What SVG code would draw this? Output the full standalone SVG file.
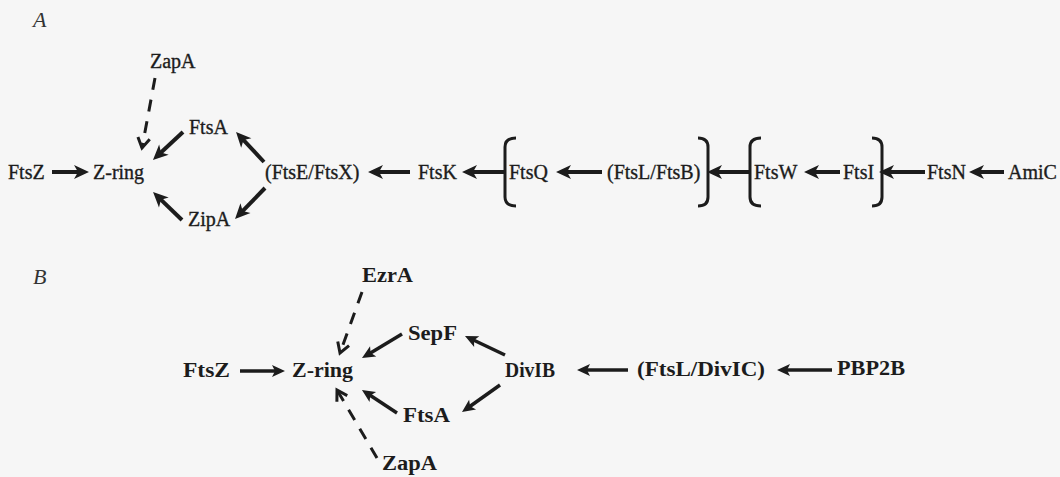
<svg xmlns="http://www.w3.org/2000/svg" width="1060" height="477" viewBox="0 0 1060 477">
<defs>
<style>
.ta{font-family:"Liberation Serif","Times New Roman",serif;font-size:20px;fill:#1c1c1c;stroke:#1c1c1c;stroke-width:0.35}
.tb{font-family:"Liberation Serif","Times New Roman",serif;font-size:20px;font-weight:bold;fill:#1c1c1c}
.lab{font-family:"Liberation Serif","Times New Roman",serif;font-size:22px;font-style:italic;fill:#333}
.sa{stroke:#1c1c1c;stroke-width:4;fill:none;marker-end:url(#ahA)}
.sb{stroke:#1c1c1c;stroke-width:3.5;fill:none;marker-end:url(#ahB)}
.da{stroke:#1c1c1c;stroke-width:3;fill:none;stroke-dasharray:12 10;marker-end:url(#ahV)}
.br{stroke:#1c1c1c;stroke-width:3;fill:none}
</style>
<marker id="ahA" markerUnits="userSpaceOnUse" markerWidth="16" markerHeight="14" refX="7" refY="7" orient="auto" overflow="visible"><path d="M0,0 L15,7 L0,14 L4,7 z" fill="#1c1c1c"/></marker>
<marker id="ahB" markerUnits="userSpaceOnUse" markerWidth="14" markerHeight="12" refX="6" refY="6" orient="auto" overflow="visible"><path d="M0,0 L13,6 L0,12 L3,6 z" fill="#1c1c1c"/></marker>
<marker id="ahV" markerUnits="userSpaceOnUse" markerWidth="12" markerHeight="14" refX="10" refY="6" orient="auto" overflow="visible"><path d="M0,0 L10,6 L0,12" fill="none" stroke="#1c1c1c" stroke-width="3"/></marker>
</defs>
<rect width="1060" height="477" fill="#f6f6f6"/>
<text class="lab" x="33" y="27">A</text>
<text class="lab" x="33" y="284">B</text>
<g id="panelA-nodes">
<g id="a-zapa"><text class="ta" x="150" y="68">ZapA</text></g>
<g id="a-ftsz"><text class="ta" x="8" y="179">FtsZ</text></g>
<g id="a-zring"><text class="ta" x="93" y="179">Z-ring</text></g>
<g id="a-ftsa"><text class="ta" x="189" y="134">FtsA</text></g>
<g id="a-zipa"><text class="ta" x="188" y="226">ZipA</text></g>
<g id="a-ftsex"><text class="ta" x="265" y="179">(FtsE/FtsX)</text></g>
<g id="a-ftsk"><text class="ta" x="418" y="179">FtsK</text></g>
<g id="a-ftsq"><text class="ta" x="509" y="179">FtsQ</text></g>
<g id="a-ftslb"><text class="ta" x="607" y="179">(FtsL/FtsB)</text></g>
<g id="a-ftsw"><text class="ta" x="754" y="179">FtsW</text></g>
<g id="a-ftsi"><text class="ta" x="843" y="179">FtsI</text></g>
<g id="a-ftsn"><text class="ta" x="927" y="179">FtsN</text></g>
<g id="a-amic"><text class="ta" x="1008" y="179">AmiC</text></g>
<g id="a-brackets">
<path class="br" d="M516,138 Q505,138 505,147 L505,197 Q505,206 516,206"/>
<path class="br" d="M698,138 Q708,138 708,147 L708,197 Q708,206 698,206"/>
<path class="br" d="M761,138 Q750,138 750,147 L750,197 Q750,206 761,206"/>
<path class="br" d="M872,138 Q882,138 882,147 L882,197 Q882,206 872,206"/>
</g>
</g>
<g id="panelB-nodes">
<g id="b-ezra"><text class="tb" x="362" y="282" textLength="51" lengthAdjust="spacingAndGlyphs">EzrA</text></g>
<g id="b-sepf"><text class="tb" x="408" y="340" textLength="49" lengthAdjust="spacingAndGlyphs">SepF</text></g>
<g id="b-ftsz"><text class="tb" x="183" y="377" textLength="47" lengthAdjust="spacingAndGlyphs">FtsZ</text></g>
<g id="b-zring"><text class="tb" x="292" y="377" textLength="61" lengthAdjust="spacingAndGlyphs">Z-ring</text></g>
<g id="b-divib"><text class="tb" x="505" y="377" textLength="50" lengthAdjust="spacingAndGlyphs">DivIB</text></g>
<g id="b-ftsldivic"><text class="tb" x="637" y="376" textLength="128" lengthAdjust="spacingAndGlyphs">(FtsL/DivIC)</text></g>
<g id="b-pbp2b"><text class="tb" x="837" y="375" textLength="68" lengthAdjust="spacingAndGlyphs">PBP2B</text></g>
<g id="b-ftsa"><text class="tb" x="403" y="422" textLength="47" lengthAdjust="spacingAndGlyphs">FtsA</text></g>
<g id="b-zapa"><text class="tb" x="382" y="470" textLength="55" lengthAdjust="spacingAndGlyphs">ZapA</text></g>
</g>
<g id="connectors">
<line class="sa" x1="52" y1="172" x2="81" y2="172"/>
<line class="sa" x1="183" y1="132" x2="158.8" y2="154.5"/>
<line class="sa" x1="182" y1="220" x2="158.8" y2="197.6"/>
<line class="sa" x1="264" y1="162" x2="241.5" y2="137.9"/>
<line class="sa" x1="265" y1="188" x2="240.6" y2="213.2"/>
<line class="sa" x1="410" y1="172" x2="376" y2="172"/>
<line class="sa" x1="505" y1="172" x2="470" y2="172"/>
<line class="sa" x1="602" y1="172" x2="564" y2="172"/>
<line class="sa" x1="750" y1="172" x2="715" y2="172"/>
<line class="sa" x1="840" y1="172" x2="812" y2="172"/>
<line class="sa" x1="925" y1="172" x2="887" y2="172"/>
<line class="sa" x1="1004" y1="172" x2="977" y2="172"/>
<line class="da" x1="155" y1="78" x2="142" y2="148"/>
<line class="sb" x1="240" y1="371" x2="278" y2="371"/>
<line class="sb" x1="402" y1="334" x2="368" y2="354.4"/>
<line class="sb" x1="505" y1="355" x2="471.3" y2="339"/>
<line class="sb" x1="500" y1="385" x2="467.7" y2="408"/>
<line class="sb" x1="397" y1="413" x2="367.8" y2="393.8"/>
<line class="sb" x1="628" y1="370" x2="584" y2="370"/>
<line class="sb" x1="832" y1="370" x2="784" y2="370"/>
<line class="da" x1="362" y1="292" x2="340" y2="353"/>
<line class="da" x1="377" y1="458" x2="337" y2="390"/>
</g>
</svg>
